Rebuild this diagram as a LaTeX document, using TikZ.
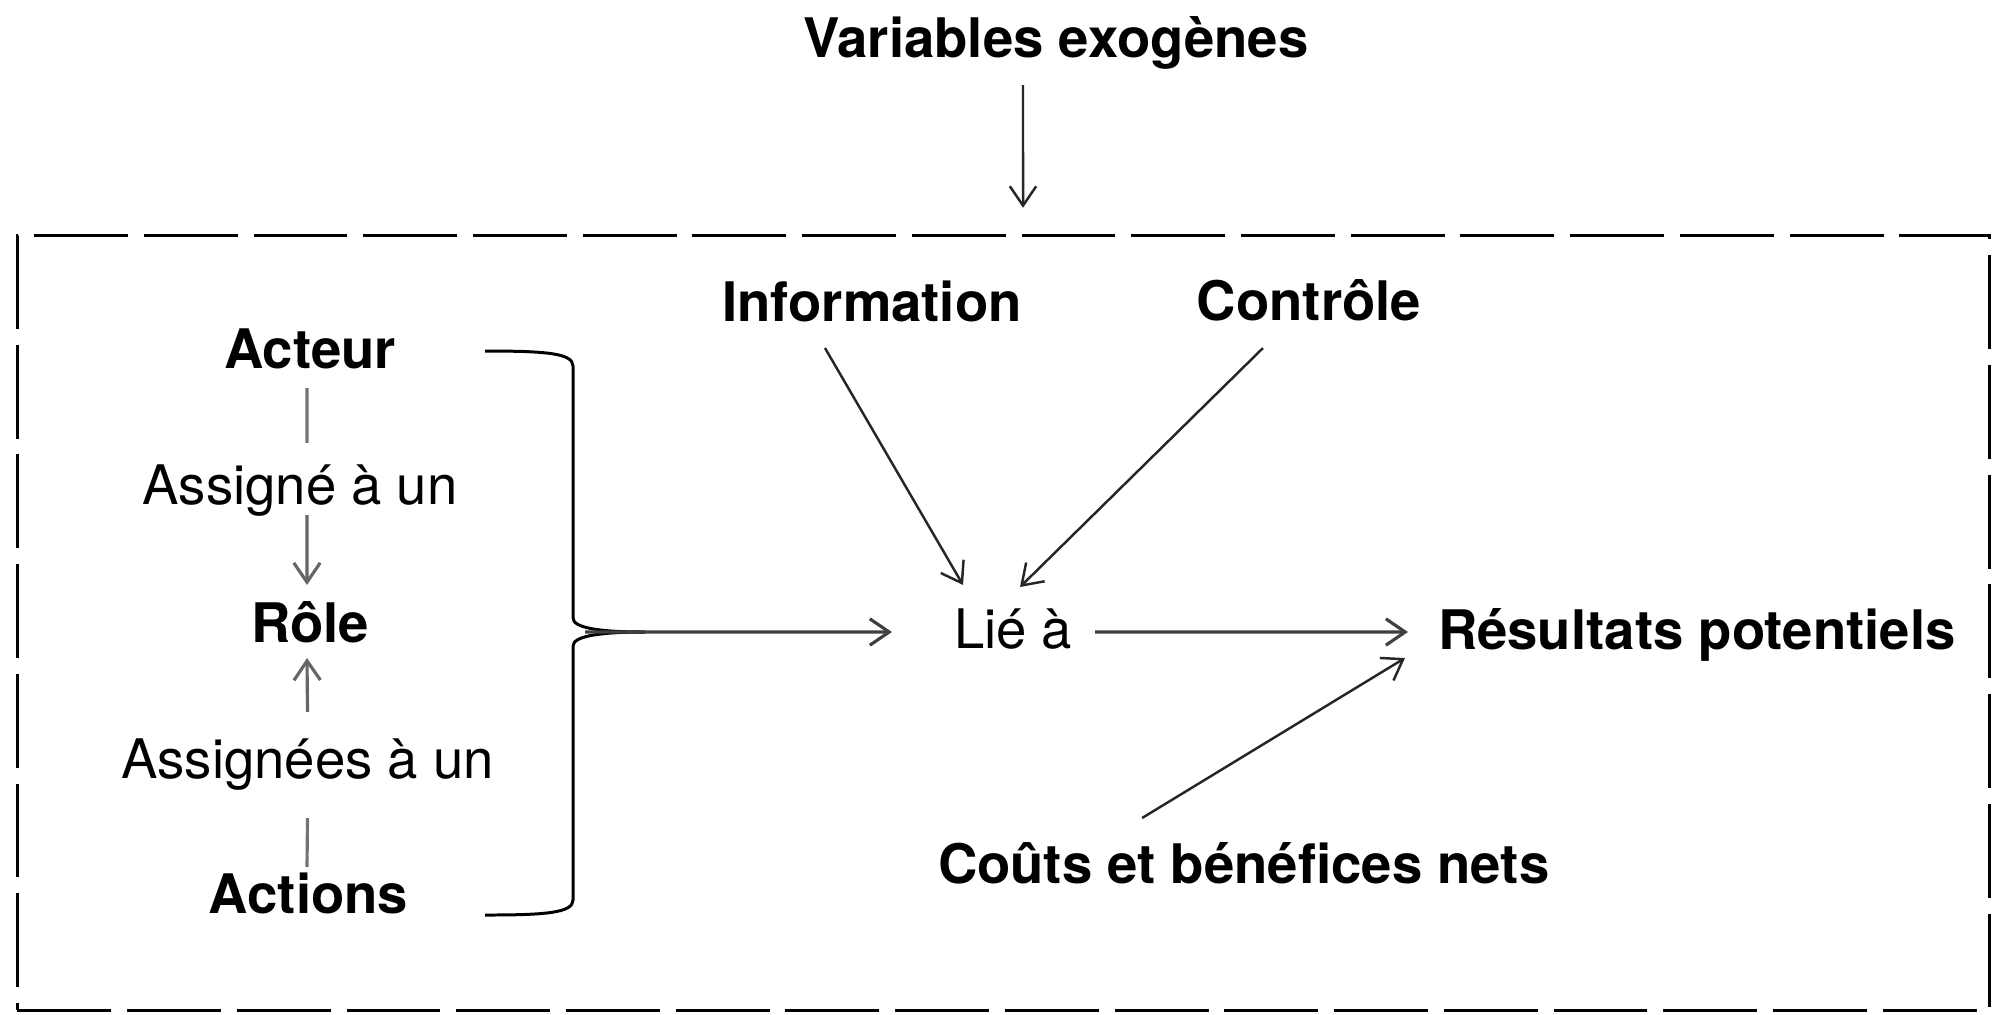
\documentclass[tikz,border=0pt]{standalone}
\usepackage{fontspec}
\setmainfont{TeX Gyre Heros}
\usetikzlibrary{arrows.meta}
\begin{document}
\begin{tikzpicture}[x=0.01cm,y=-0.01cm,
  lbl/.style={inner sep=0pt, outer sep=0pt, font=\fontsize{15.5pt}{18pt}\selectfont},
  blbl/.style={inner sep=0pt, outer sep=0pt, font=\fontsize{15.5pt}{18pt}\selectfont\bfseries},
  tipb/.style={-{Straight Barb[length=5.5pt,width=7.5pt]}},
  arr/.style={tipb, line width=0.7pt, draw=black!85},
  garr/.style={tipb, line width=0.9pt, draw=black!60},
  gline/.style={line width=0.9pt, draw=black!55},
  harr/.style={tipb, line width=0.9pt, draw=black!75},
  framebox/.style={draw, line width=0.85pt, dash pattern=on 26.7pt off 4.5pt, inner sep=0pt, outer sep=0pt},
  bracket/.style={draw, line width=0.85pt}
]
\useasboundingbox (0,0) rectangle (1992,1014);

% frame
\node[framebox, minimum width=19.71cm, minimum height=7.74cm] (frame) at (1003.5,623) {};

% texts
\node[blbl, anchor=base] (var) at (1056,57) {Variables exogènes};
\node[blbl, anchor=base] (info) at (872,321) {Information};
\node[blbl, anchor=base] (ctrl) at (1309,320) {Contrôle};
\node[blbl, anchor=base] (acteur) at (310,368) {Acteur};
\node[lbl,  anchor=base] (assigne) at (300,504) {Assigné à un};
\node[blbl, anchor=base] (role) at (310,642) {Rôle};
\node[lbl,  anchor=base] (assignees) at (307.5,778) {Assignées à un};
\node[blbl, anchor=base] (actions) at (308.5,913) {Actions};
\node[lbl,  anchor=base west] (lie) at (954,648) {Lié à};
\node[blbl, anchor=base west] (res) at (1438,649) {Résultats potentiels};
\node[blbl, anchor=base west] (couts) at (938,883) {Coûts et bénéfices nets};

% exogenous arrow
\draw[arr] ([xshift=-0.33cm,yshift=-0.28cm]var.base) -- ([xshift=0.195cm,yshift=0.28cm]frame.north);

% left column
\draw[gline] ([xshift=-0.03cm,yshift=-0.20cm]acteur.base) -- ([xshift=0.07cm,yshift=0.61cm]assigne.base);
\draw[garr] ([xshift=0.07cm,yshift=-0.11cm]assigne.base) -- ([xshift=-0.03cm,yshift=0.57cm]role.base);
\draw[garr] ([yshift=0.66cm]assignees.base) -- ([xshift=-0.03cm,yshift=-0.16cm]role.base);
\draw[gline] ([xshift=-0.015cm,yshift=0.46cm]actions.base) -- ([yshift=-0.40cm]assignees.base);

% bracket
\draw[bracket] (485,351) .. controls (545,351) and (573,353) .. (573,366) -- (573,618) .. controls (573,628) and (600,632) .. (645,632);
\draw[bracket] (485,915) .. controls (545,915) and (573,913) .. (573,900) -- (573,646) .. controls (573,636) and (600,632) .. (645,632);
\coordinate (bracetip) at (585,632);
\draw[harr] (bracetip) -- ([xshift=-0.62cm,yshift=0.16cm]lie.base west);

% inputs to Lié à
\draw[arr] ([xshift=-0.47cm,yshift=-0.27cm]info.base) -- ([xshift=0.09cm,yshift=0.63cm]lie.base west);
\draw[arr] ([xshift=-0.46cm,yshift=-0.28cm]ctrl.base) -- ([xshift=0.66cm,yshift=0.61cm]lie.base west);

% to results
\draw[harr] ([xshift=0.23cm,yshift=0.16cm]lie.base east) -- ([xshift=-0.30cm,yshift=0.17cm]res.base west);
\draw[arr] ([xshift=2.04cm,yshift=0.65cm]couts.base west) -- ([xshift=-0.33cm,yshift=-0.09cm]res.base west);
\end{tikzpicture}
\end{document}
